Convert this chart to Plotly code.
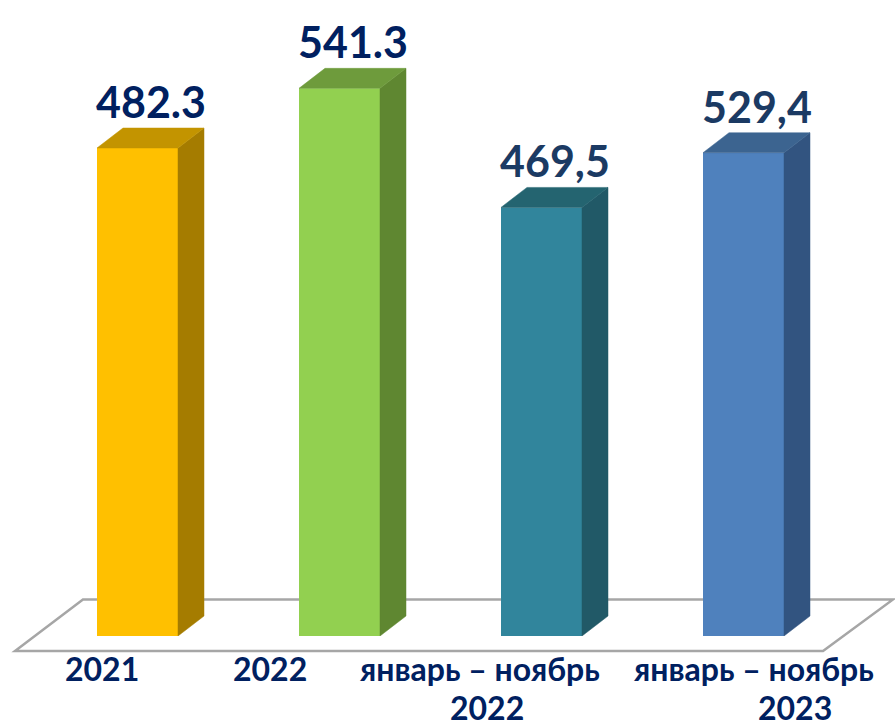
import plotly.graph_objects as go

# ---- data ----
categories = ["2021", "2022", "январь – ноябрь 2022", "январь – ноябрь 2023"]
label_lines = [["2021"], ["2022"], ["январь – ноябрь", "2022"], ["январь – ноябрь", "2023"]]
values = [482.3, 541.3, 469.5, 529.4]
value_labels = ["482.3", "541.3", "469,5", "529,4"]
axis_of = ["y", "y", "y2", "y2"]          # two source charts: annual and Jan–Nov

# ---- style ----
front_colors = ["#FFC000", "#92D050", "#31859C", "#4F81BD"]
side_colors = ["#A57C00", "#5F8731", "#215967", "#325480"]
top_colors = ["#C39400", "#6E9B3C", "#246470", "#3C6490"]
value_colors = ["#002060", "#002060", "#1B3A63", "#1B3A63"]
label_color = "#002060"
FONT = "Lato, 'Noto Sans', sans-serif"

W, H = 895, 726
MB = 90
PLOT_H = H - MB
SPACING_PX = 202.0
FIRST_PX = 137.5
BAR_W = 0.401
SIDE_PX = 26.0
DEPTH_PX = 20.0
ranges = {"y": 628.6, "y2": 696.7}

# label pixel tweaks (xshift per line, y centres in px)
line_xshift = [[-36], [-70], [-62, -55], [10, 51]]
line_y_px = [668.5, 707]

x_pos = list(range(len(values)))
dx = SIDE_PX / SPACING_PX
hw = BAR_W / 2

fig = go.Figure()

for i, (c, v, ax) in enumerate(zip(x_pos, values, axis_of)):
    dy = DEPTH_PX * ranges[ax] / PLOT_H
    # side face
    fig.add_trace(go.Scatter(
        x=[c + hw, c + hw + dx, c + hw + dx, c + hw, c + hw],
        y=[0, dy, v + dy, v, 0],
        fill="toself", fillcolor=side_colors[i], mode="lines",
        line=dict(color=side_colors[i], width=0.5),
        yaxis=ax, hoverinfo="skip", showlegend=False))
    # top face
    fig.add_trace(go.Scatter(
        x=[c - hw, c + hw, c + hw + dx, c - hw + dx, c - hw],
        y=[v, v, v + dy, v + dy, v],
        fill="toself", fillcolor=top_colors[i], mode="lines",
        line=dict(color=top_colors[i], width=0.5),
        yaxis=ax, hoverinfo="skip", showlegend=False))
    # front face
    fig.add_trace(go.Bar(
        x=[c], y=[v], width=BAR_W, marker=dict(color=front_colors[i], line=dict(width=0)),
        yaxis=ax, showlegend=False, name=categories[i]))
    # value label
    fig.add_annotation(
        x=c + dx / 2, y=v + dy, xref="x", yref=ax, yanchor="bottom",
        text=value_labels[i], showarrow=False, yshift=-1,
        font=dict(family=FONT, size=43, color=value_colors[i], weight="bold"))
    # category label lines
    for j, line in enumerate(label_lines[i]):
        fig.add_annotation(
            x=c, xref="x", y=(PLOT_H - line_y_px[j]) / PLOT_H, yref="paper",
            yanchor="middle", xshift=line_xshift[i][j], borderpad=0,
            text=line, showarrow=False,
            font=dict(family=FONT, size=32, color=label_color, weight="bold"))

# floor (decorative parallelogram)
def px_to_paper(px, py):
    return px / W, (PLOT_H - py) / PLOT_H

pts = [px_to_paper(83, 599.5), px_to_paper(893, 599.5), px_to_paper(823, 651), px_to_paper(15, 651)]
path = "M " + " L ".join(f"{a:.4f},{b:.4f}" for a, b in pts) + " Z"
fig.add_shape(type="path", path=path, xref="paper", yref="paper", layer="below",
              line=dict(color="#A6A6A6", width=2.5), fillcolor="white")

x0 = -FIRST_PX / SPACING_PX
x1 = (W - FIRST_PX) / SPACING_PX
fig.update_layout(
    width=W, height=H, autosize=False,
    margin=dict(l=0, r=0, t=0, b=MB, pad=0),
    paper_bgcolor="white", plot_bgcolor="rgba(0,0,0,0)",
    barmode="overlay",
    xaxis=dict(range=[x0, x1], visible=False, fixedrange=True),
    yaxis=dict(range=[0, ranges["y"]], visible=False, fixedrange=True),
    yaxis2=dict(range=[0, ranges["y2"]], visible=False, overlaying="y", fixedrange=True),
)

fig.write_html("out.html", config={"displayModeBar": False},
               post_script="document.body.style.margin='0';document.body.style.overflow='hidden';")
